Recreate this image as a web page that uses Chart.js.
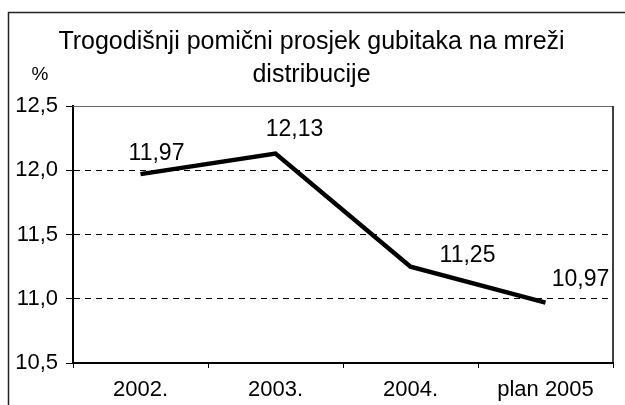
<!DOCTYPE html>
<html>
<head>
<meta charset="utf-8">
<script src="https://cdn.jsdelivr.net/npm/chart.js@4/dist/chart.umd.min.js"></script>
<style>
  html, body { margin: 0; padding: 0; background: #fff; }
  #wrap { width: 625px; height: 405px; position: relative; }
</style>
</head>
<body>
<div id="wrap"><canvas id="gubici"></canvas></div>
<script>
// Podaci očitani s grafikona
const categories = ['2002.', '2003.', '2004.', 'plan 2005'];
const lossValues = [11.97, 12.13, 11.25, 10.97];
const valueLabels = ['11,97', '12,13', '11,25', '10,97'];
const yTicks = [10.5, 11.0, 11.5, 12.0, 12.5];
const titleLines = ['Trogodišnji pomični prosjek gubitaka na mreži', 'distribucije'];

// pomak natpisa vrijednosti u odnosu na točku (px)
const labelOffsets = [[16, -20], [19, -24], [57, -11], [35, -23]];

const fontFamily = "'Liberation Sans', Arial, sans-serif";
Chart.defaults.font.family = fontFamily;
Chart.defaults.color = '#000';

// Okvir, oznaka % i natpisi vrijednosti
const decorPlugin = {
    id: 'decor',
    afterDraw(chart) {
        const ctx = chart.ctx;
        const area = chart.chartArea;
        ctx.save();
        // vanjski okvir
        ctx.strokeStyle = '#222';
        ctx.lineWidth = 1.5;
        ctx.beginPath();
        ctx.moveTo(8.5, 405);
        ctx.lineTo(8.5, 12.5);
        ctx.lineTo(625, 12.5);
        ctx.stroke();
        // gornji i desni rub područja crtanja
        ctx.lineWidth = 1;
        ctx.strokeStyle = '#666';
        ctx.beginPath();
        ctx.moveTo(area.left, area.top + 0.5);
        ctx.lineTo(area.right, area.top + 0.5);
        ctx.stroke();
        ctx.lineWidth = 1.5;
        ctx.strokeStyle = '#000';
        ctx.beginPath();
        ctx.moveTo(area.right, area.top);
        ctx.lineTo(area.right, area.bottom);
        ctx.stroke();
        // jedinica
        ctx.fillStyle = '#000';
        ctx.font = '19px ' + fontFamily;
        ctx.textAlign = 'center';
        ctx.textBaseline = 'middle';
        ctx.fillText('%', 40, 75);
        // natpisi vrijednosti
        ctx.font = '23px ' + fontFamily;
        const meta = chart.getDatasetMeta(0);
        meta.data.forEach((pt, i) => {
            ctx.fillText(valueLabels[i], pt.x + labelOffsets[i][0], pt.y + labelOffsets[i][1]);
        });
        ctx.restore();
    }
};

new Chart(document.getElementById('gubici'), {
    type: 'line',
    data: {
        labels: categories,
        datasets: [{
            data: lossValues,
            borderColor: '#000',
            borderWidth: 4.5,
            pointRadius: 0,
            tension: 0,
            fill: false
        }]
    },
    options: {
        responsive: true,
        maintainAspectRatio: false,
        animation: false,
        layout: { padding: { left: 10, right: 12, top: 0, bottom: 0 } },
        plugins: {
            legend: { display: false },
            tooltip: { enabled: false },
            title: {
                display: true,
                text: titleLines,
                color: '#000',
                font: { size: 25, weight: 'normal', lineHeight: 1.32 },
                padding: { top: 26, bottom: 14 }
            }
        },
        scales: {
            x: {
                offset: true,
                grid: {
                    offset: true,
                    drawOnChartArea: false,
                    drawTicks: true,
                    tickLength: 5,
                    tickColor: '#000'
                },
                border: { display: true, color: '#000', width: 2 },
                ticks: { font: { size: 22 }, padding: 9, color: '#000' },
                afterFit(scale) { scale.height = 42; }
            },
            y: {
                min: 10.5,
                max: 12.5,
                afterBuildTicks(scale) {
                    scale.ticks = yTicks.map(v => ({ value: v }));
                },
                grid: {
                    color: ctx => (ctx.tick && (ctx.tick.value === 12.5 || ctx.tick.value === 10.5)) ? 'rgba(0,0,0,0)' : '#000',
                    lineWidth: 1,
                    drawTicks: true,
                    tickLength: 7,
                    tickColor: '#000',
                    tickBorderDash: []
                },
                border: { display: true, color: '#000', width: 2, dash: [6, 5] },
                ticks: {
                    font: { size: 22 },
                    padding: 8,
                    color: '#000',
                    callback: v => v.toFixed(1).replace('.', ',')
                },
                afterFit(scale) { scale.width = 63; }
            }
        }
    },
    plugins: [decorPlugin]
});
</script>
</body>
</html>
